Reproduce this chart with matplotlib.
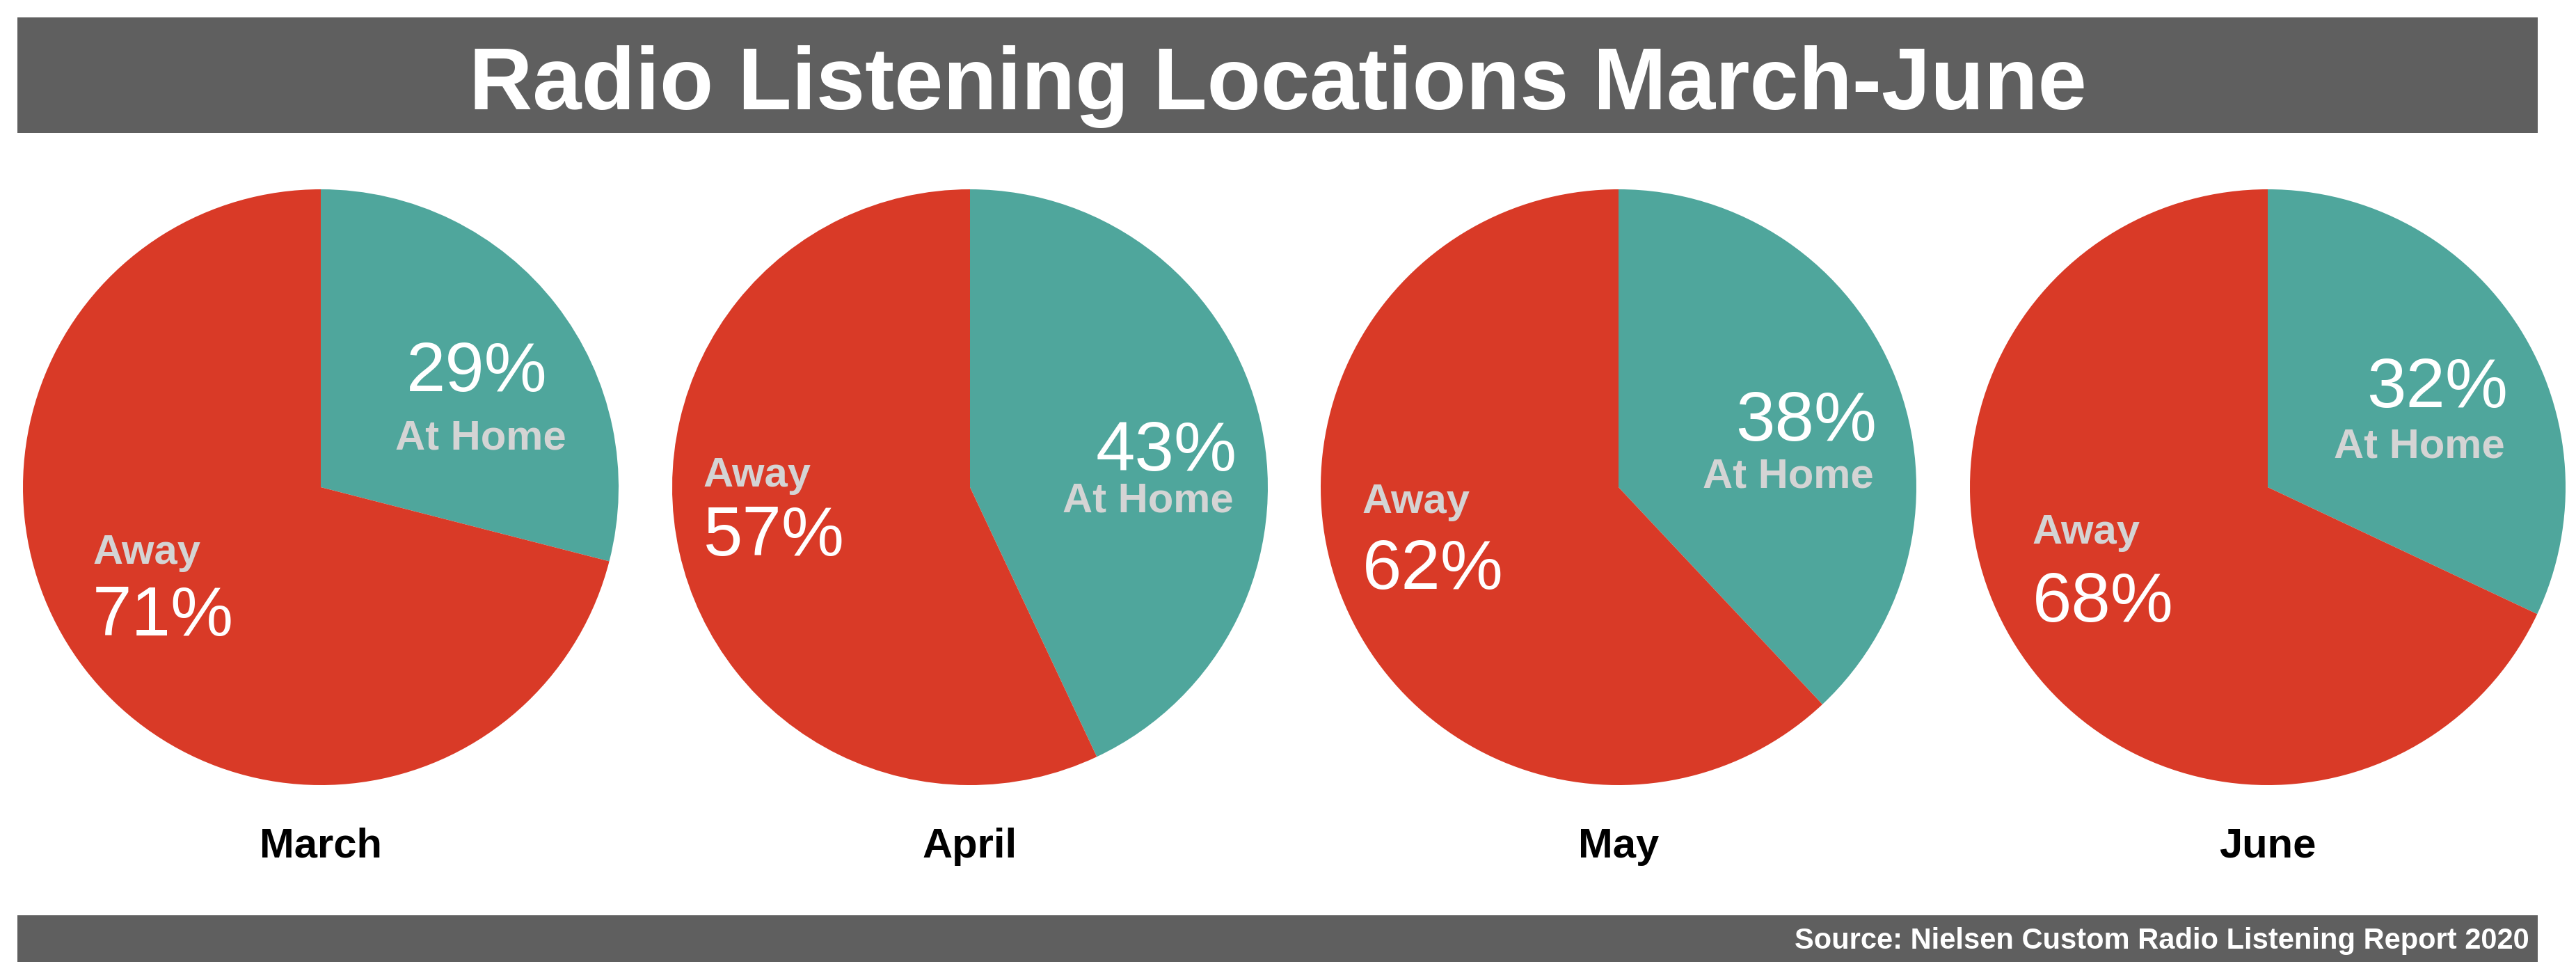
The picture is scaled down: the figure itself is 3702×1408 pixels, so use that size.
import matplotlib.pyplot as plt
from matplotlib.patches import Rectangle

months = ["March", "April", "May", "June"]
at_home = [29, 43, 38, 32]
away = [71, 57, 62, 68]

W, H = 3702, 1408
red = "#D93A27"
teal = "#4FA69C"
bar_gray = "#5F5F5F"
label_gray = "#D4D4D4"

plt.rcParams["font.family"] = ["Liberation Sans", "DejaVu Sans"]

# pie layout in pixels (x from left, y from top)
centers_x = [461, 1394, 2326, 3259]
center_y = 700
radius = 428
# label offsets in radius units: (home pct x, home pct baseline, home word x, home word baseline,
#                                 away x, away word baseline, away pct baseline)
offsets = [
    (0.523, 0.322, 0.537, 0.128, -0.766, -0.257, -0.498),
    (0.659, 0.055, 0.598, -0.082, -0.895, 0.002, -0.229),
    (0.630, 0.156, 0.570, -0.002, -0.860, -0.086, -0.340),
    (0.570, 0.269, 0.510, 0.100, -0.790, -0.190, -0.451),
]

fig = plt.figure(figsize=(W / 100, H / 100), dpi=100)
ax = fig.add_axes([0, 0, 1, 1])

for i, m in enumerate(months):
    cx, cy = centers_x[i], H - center_y
    ax.pie([at_home[i], away[i]], colors=[teal, red], startangle=90,
           counterclock=False, center=(cx, cy), radius=radius,
           wedgeprops=dict(linewidth=0))
    px, py, hx, hy, ax_x, ay, apy = offsets[i]
    ax.text(cx + px * radius, cy + py * radius, f"{at_home[i]}%", color="white",
            fontsize=73, ha="center", va="baseline")
    ax.text(cx + hx * radius, cy + hy * radius, "At Home", color=label_gray,
            fontsize=43, fontweight="bold", ha="center", va="baseline")
    ax.text(cx + ax_x * radius, cy + ay * radius, "Away", color=label_gray,
            fontsize=43, fontweight="bold", ha="left", va="baseline")
    ax.text(cx + ax_x * radius, cy + apy * radius, f"{away[i]}%", color="white",
            fontsize=73, ha="left", va="baseline")
    ax.text(cx, H - 1232, m, color="black", fontsize=43, fontweight="bold",
            ha="center", va="baseline")

# title and source bars
ax.add_patch(Rectangle((25, H - 191), 3622, 166, color=bar_gray, lw=0))
ax.text(1836, H - 157, "Radio Listening Locations March-June", color="white",
        fontsize=91, fontweight="bold", ha="center", va="baseline")
ax.add_patch(Rectangle((25, H - 1382), 3622, 67, color=bar_gray, lw=0))
ax.text(3635, H - 1363, "Source: Nielsen Custom Radio Listening Report 2020",
        color="white", fontsize=30, fontweight="bold", ha="right", va="baseline")

ax.set_xlim(0, W)
ax.set_ylim(0, H)
ax.set_aspect("equal")
ax.axis("off")

fig.savefig("out.png", dpi=100, facecolor="white")
